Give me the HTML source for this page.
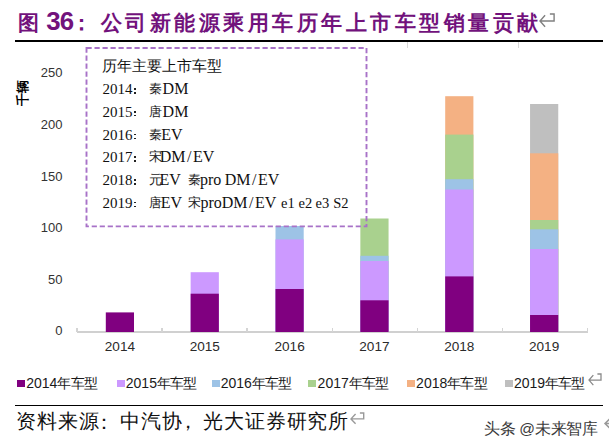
<!DOCTYPE html><html><head><meta charset="utf-8"><style>
html,body{margin:0;padding:0;background:#fff;}
body{width:609px;height:448px;position:relative;overflow:hidden;font-family:"Liberation Sans",sans-serif;}
.a{position:absolute;white-space:nowrap;}
.c{display:inline-block;width:1em;text-align:center;}
.t .c{width:24.5px;}
.s .c{width:20.8px;}
.lg .c{width:13.2px;}
</style></head><body>
<div class="a" style="left:13.20px;top:7.6px;width:30px;text-align:center;font-family:'Liberation Serif',serif;font-weight:bold;color:#72127C;font-size:21px;line-height:30px;"><span style="position:relative;left:0px">图</span></div>
<div class="a" style="left:46.2px;top:6.2px;font-family:'Liberation Sans',sans-serif;font-weight:bold;font-size:25.8px;line-height:30px;color:#72127C;letter-spacing:-0.8px">36</div>
<div class="a" style="left:71.00px;top:7.6px;width:30px;text-align:center;font-family:'Liberation Serif',serif;font-weight:bold;color:#72127C;font-size:21px;line-height:30px;"><span style="position:relative;left:-5px">：</span></div>
<div class="a" style="left:96.00px;top:7.6px;width:30px;text-align:center;font-family:'Liberation Serif',serif;font-weight:bold;color:#72127C;font-size:21px;line-height:30px;"><span style="position:relative;left:0px">公</span></div>
<div class="a" style="left:120.52px;top:7.6px;width:30px;text-align:center;font-family:'Liberation Serif',serif;font-weight:bold;color:#72127C;font-size:21px;line-height:30px;"><span style="position:relative;left:0px">司</span></div>
<div class="a" style="left:145.04px;top:7.6px;width:30px;text-align:center;font-family:'Liberation Serif',serif;font-weight:bold;color:#72127C;font-size:21px;line-height:30px;"><span style="position:relative;left:0px">新</span></div>
<div class="a" style="left:169.56px;top:7.6px;width:30px;text-align:center;font-family:'Liberation Serif',serif;font-weight:bold;color:#72127C;font-size:21px;line-height:30px;"><span style="position:relative;left:0px">能</span></div>
<div class="a" style="left:194.08px;top:7.6px;width:30px;text-align:center;font-family:'Liberation Serif',serif;font-weight:bold;color:#72127C;font-size:21px;line-height:30px;"><span style="position:relative;left:0px">源</span></div>
<div class="a" style="left:218.60px;top:7.6px;width:30px;text-align:center;font-family:'Liberation Serif',serif;font-weight:bold;color:#72127C;font-size:21px;line-height:30px;"><span style="position:relative;left:0px">乘</span></div>
<div class="a" style="left:243.12px;top:7.6px;width:30px;text-align:center;font-family:'Liberation Serif',serif;font-weight:bold;color:#72127C;font-size:21px;line-height:30px;"><span style="position:relative;left:0px">用</span></div>
<div class="a" style="left:267.64px;top:7.6px;width:30px;text-align:center;font-family:'Liberation Serif',serif;font-weight:bold;color:#72127C;font-size:21px;line-height:30px;"><span style="position:relative;left:0px">车</span></div>
<div class="a" style="left:292.16px;top:7.6px;width:30px;text-align:center;font-family:'Liberation Serif',serif;font-weight:bold;color:#72127C;font-size:21px;line-height:30px;"><span style="position:relative;left:0px">历</span></div>
<div class="a" style="left:316.68px;top:7.6px;width:30px;text-align:center;font-family:'Liberation Serif',serif;font-weight:bold;color:#72127C;font-size:21px;line-height:30px;"><span style="position:relative;left:0px">年</span></div>
<div class="a" style="left:341.20px;top:7.6px;width:30px;text-align:center;font-family:'Liberation Serif',serif;font-weight:bold;color:#72127C;font-size:21px;line-height:30px;"><span style="position:relative;left:0px">上</span></div>
<div class="a" style="left:365.72px;top:7.6px;width:30px;text-align:center;font-family:'Liberation Serif',serif;font-weight:bold;color:#72127C;font-size:21px;line-height:30px;"><span style="position:relative;left:0px">市</span></div>
<div class="a" style="left:390.24px;top:7.6px;width:30px;text-align:center;font-family:'Liberation Serif',serif;font-weight:bold;color:#72127C;font-size:21px;line-height:30px;"><span style="position:relative;left:0px">车</span></div>
<div class="a" style="left:414.76px;top:7.6px;width:30px;text-align:center;font-family:'Liberation Serif',serif;font-weight:bold;color:#72127C;font-size:21px;line-height:30px;"><span style="position:relative;left:0px">型</span></div>
<div class="a" style="left:439.28px;top:7.6px;width:30px;text-align:center;font-family:'Liberation Serif',serif;font-weight:bold;color:#72127C;font-size:21px;line-height:30px;"><span style="position:relative;left:0px">销</span></div>
<div class="a" style="left:463.80px;top:7.6px;width:30px;text-align:center;font-family:'Liberation Serif',serif;font-weight:bold;color:#72127C;font-size:21px;line-height:30px;"><span style="position:relative;left:0px">量</span></div>
<div class="a" style="left:488.32px;top:7.6px;width:30px;text-align:center;font-family:'Liberation Serif',serif;font-weight:bold;color:#72127C;font-size:21px;line-height:30px;"><span style="position:relative;left:0px">贡</span></div>
<div class="a" style="left:512.84px;top:7.6px;width:30px;text-align:center;font-family:'Liberation Serif',serif;font-weight:bold;color:#72127C;font-size:21px;line-height:30px;"><span style="position:relative;left:0px">献</span></div>
<svg class="a" style="left:537.70px;top:11.70px;z-index:10" width="18.10" height="16.70"><path d="M7.08,3.27 L2.00,8.98 L7.08,14.70 M2.00,8.98 L16.10,8.98 L16.10,2.00 L11.87,2.00" fill="none" stroke="#808080" stroke-width="1.4"/></svg>
<div class="a" style="left:15px;top:40px;width:588px;height:1.6px;background:#000;"></div>
<div class="a" style="left:406.5px;top:42px;width:1px;height:6px;background:#d8d8d8;"></div>
<div class="a" style="left:518px;top:42px;width:1px;height:6px;background:#d8d8d8;"></div>
<div class="a" style="right:546.5px;top:323.4px;font-size:13px;line-height:16px;color:#333;text-align:right;">0</div>
<div class="a" style="right:546.5px;top:271.8px;font-size:13px;line-height:16px;color:#333;text-align:right;">50</div>
<div class="a" style="right:546.5px;top:220.2px;font-size:13px;line-height:16px;color:#333;text-align:right;">100</div>
<div class="a" style="right:546.5px;top:168.6px;font-size:13px;line-height:16px;color:#333;text-align:right;">150</div>
<div class="a" style="right:546.5px;top:117.0px;font-size:13px;line-height:16px;color:#333;text-align:right;">200</div>
<div class="a" style="right:546.5px;top:65.4px;font-size:13px;line-height:16px;color:#333;text-align:right;">250</div>
<div class="a" style="left:10px;top:86px;width:26px;height:14px;font-size:13px;line-height:14px;color:#000;font-weight:bold;transform:rotate(-90deg);transform-origin:center;text-align:center;"><span class="c">千</span><span class="c">辆</span></div>
<svg class="a" style="left:0;top:0;z-index:1" width="609" height="448"><rect x="105.80" y="312.40" width="28.2" height="19.60" fill="#800080"/><rect x="190.65" y="272.20" width="28.2" height="59.80" fill="#CC99FF"/><rect x="190.65" y="293.70" width="28.2" height="38.30" fill="#800080"/><rect x="275.50" y="226.00" width="28.2" height="106.00" fill="#9DC3E6"/><rect x="275.50" y="239.40" width="28.2" height="92.60" fill="#CC99FF"/><rect x="275.50" y="289.00" width="28.2" height="43.00" fill="#800080"/><rect x="445.20" y="96.20" width="28.2" height="235.80" fill="#F4B183"/><rect x="445.20" y="134.60" width="28.2" height="197.40" fill="#A9D18E"/><rect x="445.20" y="179.20" width="28.2" height="152.80" fill="#9DC3E6"/><rect x="445.20" y="189.50" width="28.2" height="142.50" fill="#CC99FF"/><rect x="445.20" y="276.40" width="28.2" height="55.60" fill="#800080"/><rect x="530.05" y="104.00" width="28.2" height="228.00" fill="#BFBFBF"/><rect x="530.05" y="153.30" width="28.2" height="178.70" fill="#F4B183"/><rect x="530.05" y="220.00" width="28.2" height="112.00" fill="#A9D18E"/><rect x="530.05" y="229.30" width="28.2" height="102.70" fill="#9DC3E6"/><rect x="530.05" y="249.00" width="28.2" height="83.00" fill="#CC99FF"/><rect x="530.05" y="315.00" width="28.2" height="17.00" fill="#800080"/></svg>
<svg class="a" style="left:0;top:0;z-index:5" width="609" height="448"><rect x="360.35" y="218.50" width="28.2" height="113.50" fill="#A9D18E"/><rect x="360.35" y="255.80" width="28.2" height="76.20" fill="#9DC3E6"/><rect x="360.35" y="261.00" width="28.2" height="71.00" fill="#CC99FF"/><rect x="360.35" y="300.30" width="28.2" height="31.70" fill="#800080"/></svg>
<div class="a" style="left:77px;top:331.2px;width:511px;height:1.7px;background:#D0D0D0;z-index:0;"></div>
<div class="a" style="left:76.2px;top:328.2px;width:1.4px;height:3.5px;background:#D4D4D4;z-index:0;"></div>
<div class="a" style="left:161.3px;top:328.2px;width:1.4px;height:3.5px;background:#D4D4D4;z-index:0;"></div>
<div class="a" style="left:246.4px;top:328.2px;width:1.4px;height:3.5px;background:#D4D4D4;z-index:0;"></div>
<div class="a" style="left:331.5px;top:328.2px;width:1.4px;height:3.5px;background:#D4D4D4;z-index:0;"></div>
<div class="a" style="left:416.6px;top:328.2px;width:1.4px;height:3.5px;background:#D4D4D4;z-index:0;"></div>
<div class="a" style="left:501.7px;top:328.2px;width:1.4px;height:3.5px;background:#D4D4D4;z-index:0;"></div>
<div class="a" style="left:586.8px;top:328.2px;width:1.4px;height:3.5px;background:#D4D4D4;z-index:0;"></div>
<div class="a" style="left:89.9px;width:60px;text-align:center;top:338.8px;font-size:13.6px;line-height:16px;color:#2a2a2a;">2014</div>
<div class="a" style="left:174.8px;width:60px;text-align:center;top:338.8px;font-size:13.6px;line-height:16px;color:#2a2a2a;">2015</div>
<div class="a" style="left:259.6px;width:60px;text-align:center;top:338.8px;font-size:13.6px;line-height:16px;color:#2a2a2a;">2016</div>
<div class="a" style="left:344.4px;width:60px;text-align:center;top:338.8px;font-size:13.6px;line-height:16px;color:#2a2a2a;">2017</div>
<div class="a" style="left:429.3px;width:60px;text-align:center;top:338.8px;font-size:13.6px;line-height:16px;color:#2a2a2a;">2018</div>
<div class="a" style="left:514.1px;width:60px;text-align:center;top:338.8px;font-size:13.6px;line-height:16px;color:#2a2a2a;">2019</div>
<div class="a" style="left:87px;top:49px;width:279px;height:176px;background:#fff;z-index:3;"></div>
<svg class="a" style="left:0;top:0;z-index:6" width="609" height="448"><rect x="86.5" y="48" width="280" height="178.4" fill="none" stroke="#A872C8" stroke-width="1.9" stroke-dasharray="5.2 2.8"/></svg>
<div class="a" style="left:102.3px;top:56.6px;font-family:'Liberation Serif',serif;font-size:15px;line-height:18px;color:#111;z-index:7;"><span class="c">历</span><span class="c">年</span><span class="c">主</span><span class="c">要</span><span class="c">上</span><span class="c">市</span><span class="c">车</span><span class="c">型</span></div>
<div class="a" style="left:134.2px;top:88.2px;width:1.7px;height:1.7px;background:#222;z-index:7"></div><div class="a" style="left:134.2px;top:92.1px;width:1.7px;height:1.7px;background:#222;z-index:7"></div>
<div class="a" style="left:102.5px;top:80.2px;font-family:'Liberation Serif',serif;font-size:15px;line-height:18px;color:#111;z-index:7;">2014</div>
<div class="a" style="left:148.9px;top:81.2px;font-family:'Liberation Serif',serif;font-size:12.5px;line-height:16px;color:#222;z-index:7;width:12.5px;text-align:center">秦</div>
<div class="a" style="left:162.6px;top:80.2px;font-family:'Liberation Serif',serif;font-size:16px;line-height:18px;color:#111;z-index:7;">DM</div>
<div class="a" style="left:134.2px;top:110.9px;width:1.7px;height:1.7px;background:#222;z-index:7"></div><div class="a" style="left:134.2px;top:114.8px;width:1.7px;height:1.7px;background:#222;z-index:7"></div>
<div class="a" style="left:102.5px;top:102.9px;font-family:'Liberation Serif',serif;font-size:15px;line-height:18px;color:#111;z-index:7;">2015</div>
<div class="a" style="left:148.9px;top:103.9px;font-family:'Liberation Serif',serif;font-size:12.5px;line-height:16px;color:#222;z-index:7;width:12.5px;text-align:center">唐</div>
<div class="a" style="left:162.6px;top:102.9px;font-family:'Liberation Serif',serif;font-size:16px;line-height:18px;color:#111;z-index:7;">DM</div>
<div class="a" style="left:134.2px;top:133.6px;width:1.7px;height:1.7px;background:#222;z-index:7"></div><div class="a" style="left:134.2px;top:137.5px;width:1.7px;height:1.7px;background:#222;z-index:7"></div>
<div class="a" style="left:102.5px;top:125.6px;font-family:'Liberation Serif',serif;font-size:15px;line-height:18px;color:#111;z-index:7;">2016</div>
<div class="a" style="left:148.9px;top:126.6px;font-family:'Liberation Serif',serif;font-size:12.5px;line-height:16px;color:#222;z-index:7;width:12.5px;text-align:center">秦</div>
<div class="a" style="left:161.2px;top:125.6px;font-family:'Liberation Serif',serif;font-size:16px;line-height:18px;color:#111;z-index:7;">EV</div>
<div class="a" style="left:134.2px;top:156.4px;width:1.7px;height:1.7px;background:#222;z-index:7"></div><div class="a" style="left:134.2px;top:160.3px;width:1.7px;height:1.7px;background:#222;z-index:7"></div>
<div class="a" style="left:102.5px;top:148.4px;font-family:'Liberation Serif',serif;font-size:15px;line-height:18px;color:#111;z-index:7;">2017</div>
<div class="a" style="left:148.9px;top:149.4px;font-family:'Liberation Serif',serif;font-size:12.5px;line-height:16px;color:#222;z-index:7;width:12.5px;text-align:center">宋</div>
<div class="a" style="left:159.8px;top:148.4px;font-family:'Liberation Serif',serif;font-size:16px;line-height:18px;color:#111;z-index:7;">DM<span style="display:inline-block;width:7.5px;text-align:center">/</span>EV</div>
<div class="a" style="left:134.2px;top:179.1px;width:1.7px;height:1.7px;background:#222;z-index:7"></div><div class="a" style="left:134.2px;top:183.0px;width:1.7px;height:1.7px;background:#222;z-index:7"></div>
<div class="a" style="left:102.5px;top:171.1px;font-family:'Liberation Serif',serif;font-size:15px;line-height:18px;color:#111;z-index:7;">2018</div>
<div class="a" style="left:148.9px;top:172.1px;font-family:'Liberation Serif',serif;font-size:12.5px;line-height:16px;color:#222;z-index:7;width:12.5px;text-align:center">元</div>
<div class="a" style="left:159.5px;top:171.1px;font-family:'Liberation Serif',serif;font-size:16px;line-height:18px;color:#111;z-index:7;">EV</div>
<div class="a" style="left:188.3px;top:172.1px;font-family:'Liberation Serif',serif;font-size:12.5px;line-height:16px;color:#222;z-index:7;width:12.5px;text-align:center">秦</div>
<div class="a" style="left:200.0px;top:171.1px;font-family:'Liberation Serif',serif;font-size:16px;line-height:18px;color:#111;z-index:7;">pro</div>
<div class="a" style="left:224.8px;top:171.1px;font-family:'Liberation Serif',serif;font-size:16px;line-height:18px;color:#111;z-index:7;">DM<span style="display:inline-block;width:7.5px;text-align:center">/</span>EV</div>
<div class="a" style="left:134.2px;top:201.8px;width:1.7px;height:1.7px;background:#222;z-index:7"></div><div class="a" style="left:134.2px;top:205.7px;width:1.7px;height:1.7px;background:#222;z-index:7"></div>
<div class="a" style="left:102.5px;top:193.8px;font-family:'Liberation Serif',serif;font-size:15px;line-height:18px;color:#111;z-index:7;">2019</div>
<div class="a" style="left:148.9px;top:194.8px;font-family:'Liberation Serif',serif;font-size:12.5px;line-height:16px;color:#222;z-index:7;width:12.5px;text-align:center">唐</div>
<div class="a" style="left:160.8px;top:193.8px;font-family:'Liberation Serif',serif;font-size:16px;line-height:18px;color:#111;z-index:7;">EV</div>
<div class="a" style="left:188.3px;top:194.8px;font-family:'Liberation Serif',serif;font-size:12.5px;line-height:16px;color:#222;z-index:7;width:12.5px;text-align:center">宋</div>
<div class="a" style="left:200.4px;top:193.8px;font-family:'Liberation Serif',serif;font-size:16px;line-height:18px;color:#111;z-index:7;">proDM<span style="display:inline-block;width:7.5px;text-align:center">/</span>EV</div>
<div class="a" style="left:281.1px;top:193.8px;font-family:'Liberation Serif',serif;font-size:14.5px;line-height:18px;color:#111;z-index:7;">e1</div>
<div class="a" style="left:298.6px;top:193.8px;font-family:'Liberation Serif',serif;font-size:14.5px;line-height:18px;color:#111;z-index:7;">e2</div>
<div class="a" style="left:315.6px;top:193.8px;font-family:'Liberation Serif',serif;font-size:14.5px;line-height:18px;color:#111;z-index:7;">e3</div>
<div class="a" style="left:333.2px;top:193.8px;font-family:'Liberation Serif',serif;font-size:14.5px;line-height:18px;color:#111;z-index:7;">S2</div>
<div class="a" style="left:17.0px;top:379.8px;width:8px;height:7.5px;background:#800080;"></div>
<div class="a lg" style="left:26.2px;top:374.5px;font-size:14px;line-height:16px;color:#1a1a1a;">2014<span class="c">年</span><span class="c">车</span><span class="c">型</span></div>
<div class="a" style="left:116.6px;top:379.8px;width:8px;height:7.5px;background:#CC99FF;"></div>
<div class="a lg" style="left:125.8px;top:374.5px;font-size:14px;line-height:16px;color:#1a1a1a;">2015<span class="c">年</span><span class="c">车</span><span class="c">型</span></div>
<div class="a" style="left:211.5px;top:379.8px;width:8px;height:7.5px;background:#9DC3E6;"></div>
<div class="a lg" style="left:220.7px;top:374.5px;font-size:14px;line-height:16px;color:#1a1a1a;">2016<span class="c">年</span><span class="c">车</span><span class="c">型</span></div>
<div class="a" style="left:308.4px;top:379.8px;width:8px;height:7.5px;background:#A9D18E;"></div>
<div class="a lg" style="left:317.6px;top:374.5px;font-size:14px;line-height:16px;color:#1a1a1a;">2017<span class="c">年</span><span class="c">车</span><span class="c">型</span></div>
<div class="a" style="left:406.9px;top:379.8px;width:8px;height:7.5px;background:#F4B183;"></div>
<div class="a lg" style="left:416.1px;top:374.5px;font-size:14px;line-height:16px;color:#1a1a1a;">2018<span class="c">年</span><span class="c">车</span><span class="c">型</span></div>
<div class="a" style="left:504.7px;top:379.8px;width:8px;height:7.5px;background:#BFBFBF;"></div>
<div class="a lg" style="left:513.9px;top:374.5px;font-size:14px;line-height:16px;color:#1a1a1a;">2019<span class="c">年</span><span class="c">车</span><span class="c">型</span></div>
<svg class="a" style="left:586.50px;top:372.20px;z-index:10" width="16.00" height="15.10"><path d="M6.32,3.11 L2.00,8.11 L6.32,13.10 M2.00,8.11 L14.00,8.11 L14.00,2.00 L10.40,2.00" fill="none" stroke="#8a8a8a" stroke-width="1.3"/></svg>
<div class="a" style="left:14.5px;top:404.8px;width:588px;height:1.4px;background:#000;"></div>
<div class="a s" style="left:15.8px;top:409.6px;font-family:'Liberation Serif',serif;font-size:19.5px;line-height:24px;color:#111;"><span class="c">资</span><span class="c">料</span><span class="c">来</span><span class="c">源</span><span class="c" style="position:relative;left:-5.5px;top:1px">：</span><span class="c">中</span><span class="c">汽</span><span class="c">协</span><span class="c" style="position:relative;left:-4.5px">，</span><span class="c">光</span><span class="c">大</span><span class="c">证</span><span class="c">券</span><span class="c">研</span><span class="c">究</span><span class="c">所</span></div>
<svg class="a" style="left:349.10px;top:411.40px;z-index:10" width="16.70" height="14.70"><path d="M6.57,3.07 L2.00,7.89 L6.57,12.70 M2.00,7.89 L14.70,7.89 L14.70,2.00 L10.89,2.00" fill="none" stroke="#999" stroke-width="1.4"/></svg>
<div class="a" style="left:484px;top:419.5px;font-size:15.5px;line-height:18px;color:#3a3a3a;text-shadow:0 0 1px #fff,0 0 2px #fff;"><span class="c">头</span><span class="c">条</span> @<span class="c">未</span><span class="c">来</span><span class="c">智</span><span class="c">库</span></div>
<svg class="a" style="left:603.00px;top:416.00px;z-index:10" width="17.00" height="14.00"><path d="M6.68,3.00 L2.00,7.50 L6.68,12.00 M2.00,7.50 L15.00,7.50 L15.00,2.00 L11.10,2.00" fill="none" stroke="#9a9a9a" stroke-width="1.5"/></svg>
</body></html>
